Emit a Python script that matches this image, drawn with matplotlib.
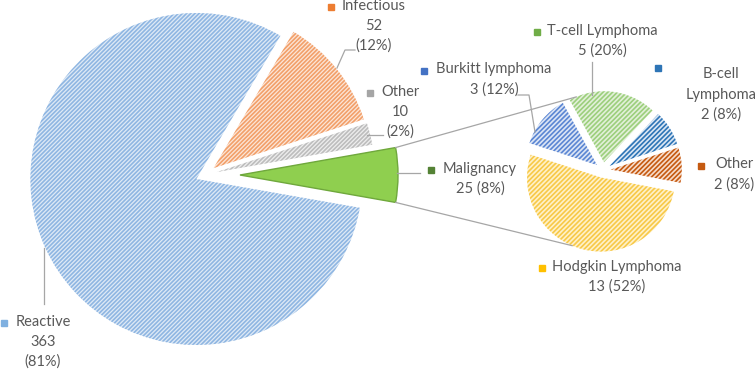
import numpy as np
import matplotlib.pyplot as plt

plt.rcParams['hatch.linewidth'] = 1.2

# --- data ---
main_names = ["Malignancy", "Other", "Infectious", "Reactive"]
main_counts = [25, 10, 52, 363]
main_pcts = ["8%", "2%", "12%", "81%"]

sub_names = ["Hodgkin Lymphoma", "Other", "B-cell Lymphoma", "T-cell Lymphoma", "Burkitt lymphoma"]
sub_counts = [13, 2, 2, 5, 3]
sub_pcts = ["52%", "8%", "8%", "20%", "12%"]

# --- styles ---
W, H = 756, 370
TXT = "#595959"
LN = "#a6a6a6"

main_face = ["#8fcf4f", "#eeeeee", "#fce6d8", "#dfeaf6"]
main_stripe = ["#6fa83c", "#bdbdbd", "#f2a06a", "#8fb6e2"]
main_hatch = [None, "////////", "////////", "////////"]
main_explode = [35, 12, 11, 9.5]   # pie explode is in data units (px here)
main_key = ["#548235", "#a5a5a5", "#ed7d31", "#7fb0e0"]

sub_face = ["#fff1c9", "#f7dccb", "#dbe7f4", "#e2f0d9", "#dce5f5"]
sub_stripe = ["#f7c948", "#c55a11", "#2e75b6", "#9ccf7c", "#5b86d3"]
sub_key = ["#ffc000", "#c55a11", "#2e75b6", "#70ad47", "#4472c4"]

fig = plt.figure(figsize=(W / 100, H / 100), dpi=100)
ax = fig.add_axes([0, 0, 1, 1])


def sy(y):
    # screen y (from top) -> axes y
    return H - y


# main pie
C1 = (205, sy(175))
R1 = 158
ang_mal = main_counts[0] / sum(main_counts) * 360
wedges1, _ = ax.pie(main_counts, colors=main_face, startangle=-ang_mal / 2,
                    counterclock=True, radius=R1, center=C1,
                    explode=main_explode, hatch=main_hatch, frame=True)
for w, ec, h in zip(wedges1, main_stripe, main_hatch):
    w.set_edgecolor(ec)
    w.set_linewidth(0 if h else 1.0)
wedges1[3].set_radius(166)

# sub pie
C2 = (603, sy(170))
R2 = 71
wedges2, _ = ax.pie(sub_counts, colors=sub_face, startangle=162,
                    counterclock=True, radius=R2, center=C2,
                    explode=[7.8] * 5, hatch="///////", frame=True)
for w, ec in zip(wedges2, sub_stripe):
    w.set_edgecolor(ec)
    w.set_linewidth(0)
wedges2[0].set_radius(74)

ax.set_xlim(0, W)
ax.set_ylim(0, H)
ax.set_aspect("equal")
ax.axis("off")


def arc_pt(w, ang):
    a = np.deg2rad(ang)
    return (w.center[0] + w.r * np.cos(a), w.center[1] + w.r * np.sin(a))


# connector lines
m = wedges1[0]
p_top = arc_pt(m, m.theta2)
p_bot = arc_pt(m, m.theta1)
q_top = arc_pt(wedges2[3], 113)
q_bot = arc_pt(wedges2[0], 247)
ax.plot([p_top[0], q_top[0]], [p_top[1], q_top[1]], color=LN, lw=0.9)
ax.plot([p_bot[0], q_bot[0]], [p_bot[1], q_bot[1]], color=LN, lw=0.9)

# leader lines (screen coords)
leaders = [
    [(44, 248), (44, 304)],
    [(337, 68), (345, 50), (355, 50)],
    [(367, 135), (383, 135)],
    [(397, 173), (420, 173)],
    [(592, 95), (592, 62)],
    [(535, 132), (529, 95), (518, 95)],
]
for pts in leaders:
    xs = [p[0] for p in pts]
    ys = [sy(p[1]) for p in pts]
    ax.plot(xs, ys, color=LN, lw=0.9)

# labels
main_text = [
    f"{main_names[0]}\n{main_counts[0]} ({main_pcts[0]})",
    f"{main_names[1]}\n{main_counts[1]}\n({main_pcts[1]})",
    f"{main_names[2]}\n{main_counts[2]}\n({main_pcts[2]})",
    f"{main_names[3]}\n{main_counts[3]}\n({main_pcts[3]})",
]
main_pos = [(480, 170), (400, 93), (374, 7), (43, 323)]
main_keypos = [(431, 170), (370, 93), (331, 7), (4, 323)]

sub_text = [
    f"{sub_names[0]}\n{sub_counts[0]} ({sub_pcts[0]})",
    f"{sub_names[1]}\n{sub_counts[1]} ({sub_pcts[1]})",
    "B-cell\nLymphoma\n" + f"{sub_counts[2]} ({sub_pcts[2]})",
    f"{sub_names[3]}\n{sub_counts[3]} ({sub_pcts[3]})",
    f"{sub_names[4]}\n{sub_counts[4]} ({sub_pcts[4]})",
]
sub_pos = [(617, 268), (734, 166), (721, 76), (602, 32), (494, 71)]
sub_keypos = [(542, 268), (701, 166), (658, 68), (537, 32), (424, 71)]

for txt, (x, y) in zip(main_text + sub_text, main_pos + sub_pos):
    ax.text(x, sy(y) + 8.5, txt, ha="center", va="top", color=TXT,
            fontsize=10.5, family="Lato", linespacing=1.55)

for c, (x, y) in zip(main_key + sub_key, main_keypos + sub_keypos):
    ax.plot([x], [sy(y)], marker="s", ms=4, color=c, mec=c)

fig.savefig("out.png", dpi=100)
